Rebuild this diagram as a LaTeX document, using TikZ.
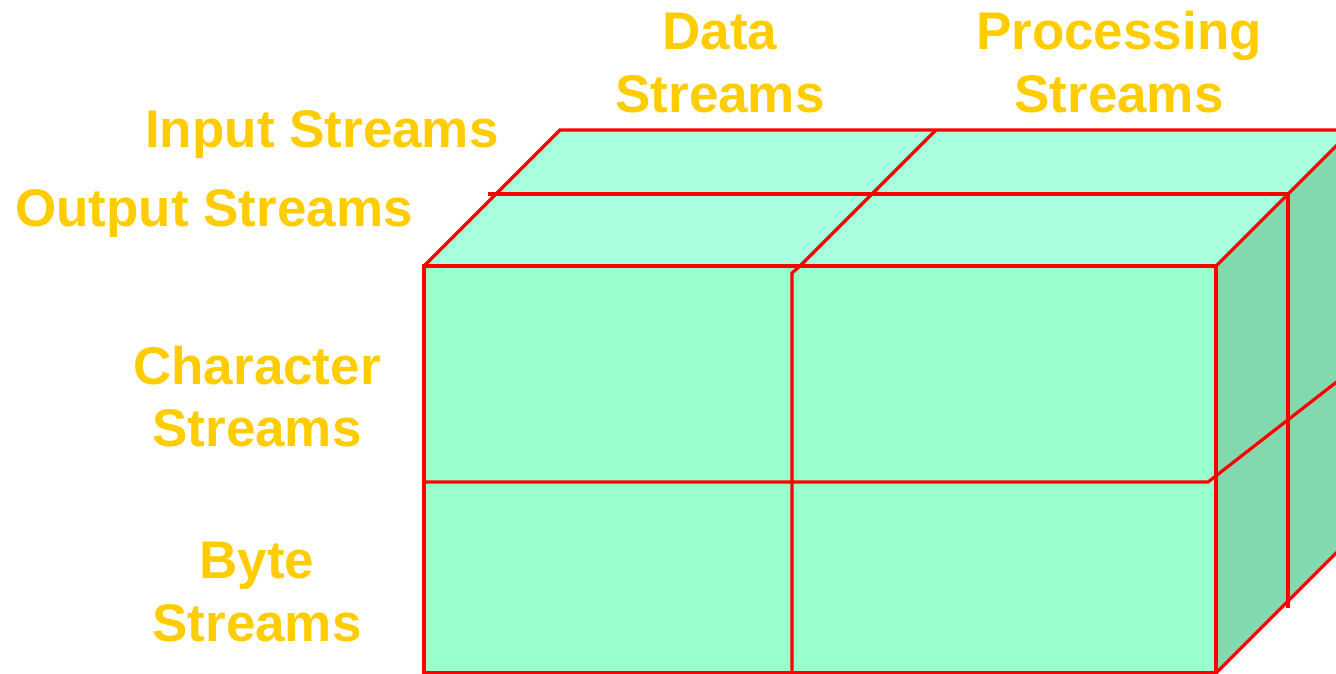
\documentclass[tikz,border=0pt]{standalone}
\usepackage{fontspec}
\setmainfont{Liberation Sans}
\definecolor{txtgold}{HTML}{FFCC00}
\definecolor{frontfill}{HTML}{99FFCC}
\definecolor{topfill}{HTML}{A8FFDD}
\definecolor{sidefill}{HTML}{83D9AE}
\definecolor{edgered}{HTML}{FF0000}
\tikzset{
  lbl/.style={inner sep=0pt, text=txtgold, font=\fontsize{53}{63}\selectfont\bfseries},
  edge/.style={draw=edgered, line width=3.2pt, line join=miter},
}
\begin{document}
\begin{tikzpicture}[x=1pt,y=-1pt]
\useasboundingbox (0,0) rectangle (1336,674);
\begin{scope}
\clip (0,0) rectangle (1336,674);
% faces
\fill[topfill] (424,266) -- (560,130) -- (1352,130) -- (1216,266) -- cycle;
\fill[sidefill] (1216,266) -- (1352,130) -- (1352,537) -- (1216,673) -- cycle;
\fill[frontfill] (424,266) rectangle (1216,673);
% outer edges
\draw[edge] (424,266) rectangle (1216,673);
\draw[edge] (424,266) -- (560,130) -- (1352,130);
\draw[edge] (1216,266) -- (1352,130);
\draw[edge] (1216,673) -- (1352,537);
% dividing lines
\draw[edge] (488,194) -- (1288,194);
\draw[edge] (1288,194) -- (1288,608);
\draw[edge] (936,130) -- (800,266) -- (792,273) -- (792,673);
\draw[edge] (424,482) -- (1208,482) -- (1352,370);
\end{scope}
% labels
\node[lbl, anchor=base] (data1) at (720,50) {Data};
\node[lbl, anchor=base] (data2) at (720,113) {Streams};
\node[lbl, anchor=base] (proc1) at (1119,50) {Processing};
\node[lbl, anchor=base] (proc2) at (1119,113) {Streams};
\node[lbl, anchor=base west] (input) at (145,147) {Input Streams};
\node[lbl, anchor=base west] (output) at (15,226) {Output Streams};
\node[lbl, anchor=base] (char1) at (257,384) {Character};
\node[lbl, anchor=base] (char2) at (257,446) {Streams};
\node[lbl, anchor=base] (byte1) at (257,578) {Byte};
\node[lbl, anchor=base] (byte2) at (257,641) {Streams};
\end{tikzpicture}
\end{document}
